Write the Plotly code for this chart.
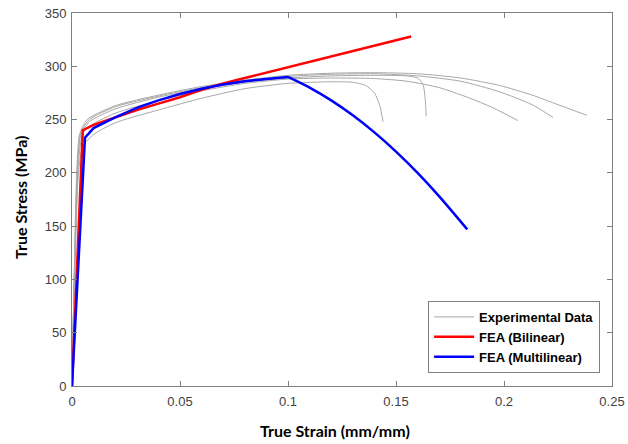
import plotly.graph_objects as go

# Experimental curves (true strain, true stress)
exp1_x = [0, 0.0015, 0.003, 0.005, 0.01, 0.02, 0.04, 0.06, 0.08, 0.1, 0.12, 0.13, 0.136, 0.14, 0.1425, 0.144]
exp1_y = [0, 120, 200, 225, 236, 247, 259, 270, 279, 284, 285.5, 285, 282, 275, 263, 248]
exp2_x = [0, 0.001, 0.0025, 0.004, 0.008, 0.02, 0.04, 0.06, 0.08, 0.1, 0.12, 0.14, 0.155, 0.16, 0.1625, 0.1635, 0.164]
exp2_y = [0, 100, 200, 235, 248, 260, 271, 279, 285, 289, 291, 291.5, 291, 289, 283, 270, 253]
exp3_x = [0, 0.0012, 0.003, 0.005, 0.01, 0.02, 0.04, 0.06, 0.08, 0.1, 0.12, 0.14, 0.155, 0.17, 0.183, 0.195, 0.2065]
exp3_y = [0, 110, 210, 237, 246, 256, 268, 277, 284, 288, 289, 288.5, 286, 280, 271, 261, 249]
exp4_x = [0, 0.001, 0.0025, 0.004, 0.008, 0.02, 0.04, 0.06, 0.08, 0.1, 0.12, 0.14, 0.16, 0.18, 0.198, 0.213, 0.2227]
exp4_y = [0, 95, 205, 238, 250, 262, 272, 280, 286, 290.5, 292.5, 293, 291, 286, 276, 264, 252]
exp5_x = [0, 0.0008, 0.002, 0.0035, 0.007, 0.02, 0.04, 0.06, 0.08, 0.1, 0.12, 0.14, 0.16, 0.18, 0.198, 0.213, 0.225, 0.2384]
exp5_y = [0, 80, 190, 236, 250, 263, 273, 281, 287, 291.5, 293.5, 294, 293, 289, 282, 273, 264, 254]

# FEA bilinear
bil_x = [0, 0.005, 0.01, 0.02, 0.03, 0.04, 0.05, 0.06, 0.07, 0.08, 0.1, 0.12, 0.14, 0.157]
bil_y = [0, 240, 245, 252, 259, 265, 271, 278, 284, 289, 299, 309, 319, 328]

# FEA multilinear (hardening branch, then softening branch)
mul_x = [0, 0.006, 0.01, 0.02, 0.03, 0.04, 0.05, 0.06, 0.07, 0.08, 0.09, 0.1]
mul_y = [0, 233, 242, 252, 261, 268, 274, 279, 283, 286, 288, 290]
mul_soft_x = [0.1, 0.11, 0.12, 0.13, 0.14, 0.15, 0.16, 0.17, 0.183]
mul_soft_y = [290, 280, 268, 254, 238, 220, 200, 178, 147]

exp_sets = [(exp1_x, exp1_y), (exp2_x, exp2_y), (exp3_x, exp3_y), (exp4_x, exp4_y), (exp5_x, exp5_y)]

x_ticks = [0, 0.05, 0.1, 0.15, 0.2, 0.25]
x_labels = ["0", "0.05", "0.1", "0.15", "0.2", "0.25"]
y_ticks = [0, 50, 100, 150, 200, 250, 300, 350]

fig = go.Figure()
for i, (xs, ys) in enumerate(exp_sets):
    fig.add_trace(go.Scatter(
        x=xs, y=ys, mode="lines", line=dict(color="#a8a8a8", width=1, shape="spline", smoothing=0.6),
        name="Experimental Data", legendgroup="exp", showlegend=(i == 0)))
fig.add_trace(go.Scatter(x=bil_x, y=bil_y, mode="lines",
                         line=dict(color="#ff0000", width=2.5), name="FEA (Bilinear)"))
fig.add_trace(go.Scatter(x=mul_x, y=mul_y, mode="lines", legendgroup="mul",
                         line=dict(color="#0000ff", width=2.5), name="FEA (Multilinear)"))
fig.add_trace(go.Scatter(x=mul_soft_x, y=mul_soft_y, mode="lines", legendgroup="mul", showlegend=False,
                         line=dict(color="#0000ff", width=2.5, shape="spline", smoothing=0.8),
                         name="FEA (Multilinear)"))

axis_common = dict(showline=True, linecolor="#808080", linewidth=1, mirror="ticks",
                   ticks="inside", ticklen=5, tickcolor="#808080", showgrid=False, zeroline=False,
                   automargin=False,
                   tickfont=dict(family="Liberation Sans, Arial", size=13, color="#404040"))
fig.update_xaxes(range=[0, 0.25], tickvals=x_ticks, ticktext=x_labels, ticklabelstandoff=3,
                 **axis_common)
fig.update_yaxes(range=[0, 350], tickvals=y_ticks, ticklabelstandoff=2,
                 **axis_common)

title_font = dict(family="Lato", size=16, color="#000000")
fig.add_annotation(text="<b>True Strain (mm/mm)</b>", xref="paper", yref="paper",
                   x=(335 - 72) / 540, y=-(430 - 386) / 373, xanchor="center", yanchor="middle",
                   showarrow=False, font=title_font)
fig.add_annotation(text="<b>True Stress (MPa)</b>", xref="paper", yref="paper",
                   x=-(72 - 20) / 540, y=(386 - 198) / 373, xanchor="center", yanchor="middle",
                   textangle=-90, showarrow=False, font=title_font)

fig.update_layout(
    width=628, height=444,
    margin=dict(l=72, r=16, t=13, b=58),
    paper_bgcolor="white", plot_bgcolor="white",
    legend=dict(x=0.978, y=0.035, xanchor="right", yanchor="bottom",
                bgcolor="white", bordercolor="#808080", borderwidth=1,
                font=dict(family="Liberation Sans, Arial", size=13, color="#000000", weight="bold"),
                itemwidth=40, tracegroupgap=0),
)
fig.write_html("out.html")
